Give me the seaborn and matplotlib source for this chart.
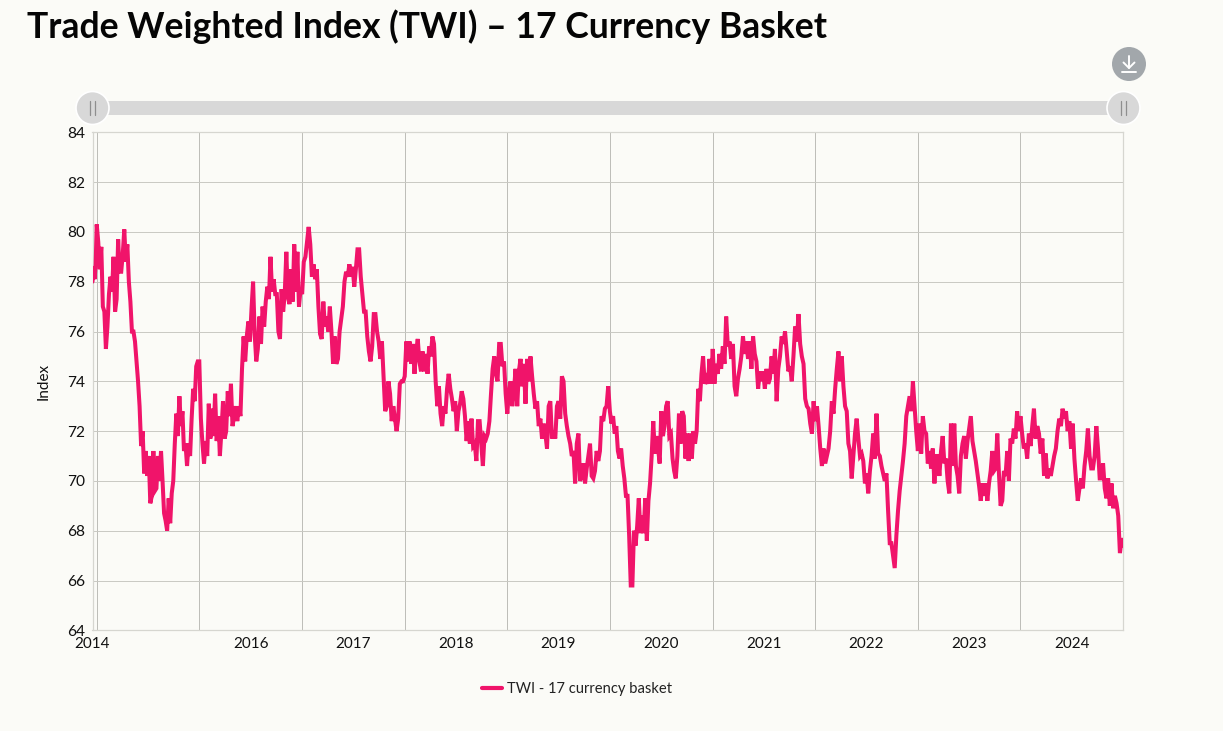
#!/usr/bin/env python3
import numpy as np
import pandas as pd
import matplotlib
matplotlib.use('Agg')
import matplotlib.pyplot as plt
import seaborn as sns
from matplotlib.patches import Circle, Rectangle

# Index values, one list per calendar year
twi_stub = [78.0, 78.6, 78.1, 78.7]
twi_2015 = [80.3, 79.6, 78.5, 79.4, 77.0, 76.8, 75.3, 76.2, 77.5, 78.2, 77.6, 79.0, 76.8, 77.3,
            79.7, 78.4, 78.4, 79.1, 80.1, 78.8, 79.5, 78.0, 77.2, 76.0, 76.0, 75.6, 74.8, 74.0,
            73.0, 71.4, 72.0, 70.3, 71.2, 70.2, 71.0, 69.1, 69.4, 71.2, 69.6, 69.7, 71.0, 70.0,
            71.2, 70.0, 68.7, 68.4, 68.0, 69.3, 68.3, 69.5, 70.0, 71.5, 72.7, 71.8, 73.4, 72.2,
            72.8, 71.2, 71.5, 70.6, 71.5, 71.0, 72.5, 73.7, 73.2, 74.6, 74.8]
twi_2016 = [74.8, 72.5, 71.5, 70.7, 71.6, 71.0, 73.1, 71.7, 72.9, 71.8, 73.5, 71.6, 72.6, 71.0,
            72.0, 73.2, 71.7, 72.0, 73.6, 72.6, 73.9, 72.2, 72.6, 73.0, 72.4, 73.0, 72.6, 74.5,
            75.8, 74.8, 75.8, 76.4, 75.6, 76.9, 78.0, 75.9, 74.8, 75.3, 76.6, 75.5, 77.0, 76.2,
            77.2, 77.8, 77.3, 79.0, 77.6, 78.1, 77.5, 77.5, 76.0, 75.7, 77.7, 76.8, 77.5, 79.2,
            77.4, 77.1, 78.5, 77.2, 79.5, 77.6, 79.2, 77.0, 77.7]
twi_2017 = [77.5, 78.8, 79.0, 79.6, 80.2, 79.5, 78.2, 78.7, 78.1, 78.5, 77.0, 75.9, 75.7, 77.2,
            76.2, 76.6, 76.0, 77.0, 76.0, 74.7, 75.8, 74.7, 74.9, 76.0, 76.5, 77.0, 78.0, 78.4,
            78.2, 78.7, 78.2, 78.6, 77.8, 78.5, 79.3, 79.3, 78.2, 77.5, 76.8, 76.8, 75.8, 75.2,
            74.8, 75.4, 76.7, 76.7, 76.0, 75.6, 74.9, 75.6, 74.2, 72.8, 73.0, 74.0, 73.5, 72.4,
            73.0, 72.5, 72.0, 72.5, 73.9, 74.0, 74.0]
twi_2018 = [74.2, 75.6, 74.8, 75.6, 74.7, 75.5, 74.3, 75.2, 75.7, 74.8, 74.4, 75.2, 74.4, 75.1,
            74.3, 75.4, 75.0, 75.8, 75.5, 74.0, 73.0, 73.8, 72.7, 72.2, 73.0, 72.7, 73.7, 74.3,
            73.7, 73.3, 72.8, 73.2, 72.0, 72.8, 73.1, 73.6, 73.3, 72.6, 71.6, 72.4, 71.5, 72.5,
            71.4, 71.5, 70.8, 72.4, 72.4, 71.5, 70.6, 71.8, 71.7, 71.9, 72.4, 73.5, 74.5, 75.0,
            74.3, 74.0, 75.5, 75.5, 74.6, 74.8, 73.5]
twi_2019 = [72.7, 73.6, 74.0, 73.0, 73.6, 74.5, 73.0, 74.4, 74.9, 73.8, 74.7, 73.1, 74.9, 74.0,
            75.0, 74.2, 73.5, 72.9, 73.2, 72.2, 72.5, 71.7, 72.3, 71.9, 71.3, 73.0, 73.2, 71.7,
            72.0, 71.7, 73.0, 73.2, 72.5, 74.2, 74.0, 72.7, 72.2, 71.8, 71.5, 71.0, 71.2, 69.9,
            71.5, 71.9, 70.0, 70.2, 70.7, 69.9, 70.5, 71.0, 71.5, 70.2, 70.1, 70.4, 71.2, 70.8,
            71.2, 72.6, 72.4, 72.9, 73.0, 73.8]
twi_2020 = [72.8, 72.3, 72.6, 71.9, 72.2, 71.2, 70.9, 71.3, 70.6, 70.1, 69.4, 69.4, 67.8, 65.8,
            65.8, 68.0, 67.4, 68.2, 69.3, 67.9, 68.6, 67.9, 69.3, 67.6, 69.2, 69.9, 71.0, 72.4,
            71.1, 71.8, 71.3, 70.7, 72.8, 71.8, 72.2, 73.0, 73.2, 71.8, 71.9, 70.9, 70.4, 70.1,
            71.0, 72.7, 71.5, 72.8, 72.6, 70.9, 71.9, 70.8, 71.9, 70.9, 72.0, 71.5, 72.0, 73.7,
            73.2, 74.3, 75.0, 73.9, 74.1, 73.9, 74.9, 73.9]
twi_2021 = [75.3, 73.9, 74.7, 74.3, 75.1, 74.5, 75.4, 74.7, 76.6, 75.4, 75.6, 74.9, 75.5, 73.8,
            73.4, 74.1, 74.5, 75.0, 75.8, 75.1, 75.6, 74.9, 75.6, 74.5, 75.8, 75.1, 74.8, 73.7,
            74.4, 74.0, 74.4, 73.7, 74.5, 73.9, 74.1, 75.0, 74.3, 75.3, 73.2, 74.5, 75.0, 75.8,
            75.5, 76.0, 75.2, 74.4, 74.6, 74.0, 75.0, 76.2, 75.6, 76.7, 75.5, 75.0, 74.7, 73.3,
            73.0, 72.9, 72.3, 71.9, 73.2]
twi_2022 = [72.4, 73.0, 72.2, 71.3, 70.6, 71.3, 70.7, 71.0, 71.3, 72.0, 73.2, 72.7, 73.7, 74.5,
            75.2, 74.0, 75.0, 73.8, 73.0, 72.8, 71.5, 71.2, 70.1, 71.0, 71.9, 72.5, 71.7, 71.0,
            71.1, 70.8, 69.9, 70.3, 69.5, 70.4, 71.0, 71.9, 70.9, 72.7, 71.1, 71.0, 70.6, 70.3,
            70.0, 70.3, 68.8, 67.5, 67.5, 67.0, 66.5, 67.8, 68.8, 69.6, 70.2, 70.8, 71.5, 72.6,
            73.0, 73.4, 72.8, 74.0, 73.0, 72.0]
twi_2023 = [71.2, 72.3, 71.1, 72.6, 72.0, 71.9, 70.7, 71.2, 70.5, 71.3, 69.9, 71.0, 71.0, 70.2,
            71.2, 71.8, 70.7, 70.9, 70.0, 69.5, 72.3, 70.6, 72.3, 70.6, 70.2, 69.5, 71.0, 71.5,
            71.8, 70.9, 71.6, 72.1, 72.6, 71.6, 71.2, 70.8, 70.3, 69.8, 69.2, 69.9, 69.4, 69.9,
            69.2, 69.9, 70.4, 71.2, 70.4, 70.5, 71.9, 70.3, 69.0, 69.2, 70.4, 70.2, 71.2, 70.0,
            71.7, 71.5, 72.1, 71.7, 72.8, 72.0]
twi_2024 = [72.6, 71.9, 71.3, 71.5, 70.9, 71.9, 71.4, 72.2, 72.9, 71.7, 72.2, 71.9, 71.1, 71.7,
            70.2, 71.1, 70.1, 70.5, 70.2, 70.6, 71.0, 71.3, 72.0, 72.5, 72.2, 72.9, 72.5, 72.8,
            72.0, 72.4, 71.3, 72.3, 70.9, 70.0, 69.2, 69.7, 70.1, 69.7, 70.6, 71.2, 72.1, 71.0,
            70.5, 70.5, 71.0, 72.2, 71.3, 70.1, 70.1, 70.7, 69.7, 69.3, 70.1, 69.0, 69.9, 68.9,
            69.4, 69.1, 68.6, 67.1, 67.7, 67.4]

year_values = [twi_stub, twi_2015, twi_2016, twi_2017, twi_2018, twi_2019, twi_2020,
               twi_2021, twi_2022, twi_2023, twi_2024]
year_edges = ['2014-12-17', '2015-01-01', '2016-01-01', '2017-01-01', '2018-01-01', '2019-01-01',
              '2020-01-01', '2021-01-01', '2022-01-01', '2023-01-01', '2024-01-01', '2025-01-01']

y_ticks = [64, 66, 68, 70, 72, 74, 76, 78, 80, 82, 84]
label_years = ['2016', '2017', '2018', '2019', '2020', '2021', '2022', '2023', '2024']
series_name = 'TWI - 17 currency basket'

# Spread each year's readings evenly across that year
frames = []
for i, vals in enumerate(year_values):
    start, end = pd.Timestamp(year_edges[i]), pd.Timestamp(year_edges[i + 1])
    dates = pd.date_range(start, end, periods=len(vals) + 1)[:-1] if i < len(year_values) - 1 \
        else pd.date_range(start, end, periods=len(vals))
    frames.append(pd.DataFrame({'date': dates, 'twi': vals}))
df = pd.concat(frames, ignore_index=True)

BG = '#FBFBF7'
PINK = '#F0146A'
W, H = 1223, 731

sns.set_theme(style='white')
plt.rcParams['font.family'] = ['Lato', 'DejaVu Sans']

fig = plt.figure(figsize=(W / 100, H / 100), dpi=100, facecolor=BG)
ax = fig.add_axes([92.5 / W, 1 - 630.3 / H, (1123.3 - 92.5) / W, (630.3 - 132.3) / H], facecolor=BG)

sns.lineplot(data=df, x='date', y='twi', color=PINK, linewidth=2.9, label=series_name,
             estimator=None, sort=False, ax=ax, zorder=3)
ax.lines[0].set_solid_joinstyle('miter')

ax.set_xlim(pd.Timestamp(year_edges[0]), pd.Timestamp(year_edges[-1]))
ax.set_ylim(y_ticks[0], y_ticks[-1])
ax.set_yticks(y_ticks)
ax.tick_params(axis='y', length=0, labelsize=11.2, pad=5, labelcolor='#111111')

# Gridlines sit on year starts, year labels in the middle of each year
ax.set_xticks([pd.Timestamp(e) for e in year_edges[1:]])
ax.set_xticklabels([])
ax.tick_params(axis='x', which='major', length=0)
label_pos = [pd.Timestamp(year_edges[0])] + [pd.Timestamp(y + '-07-02') for y in label_years]
ax.set_xticks(label_pos, minor=True)
ax.set_xticklabels(['2014'] + label_years, minor=True)
ax.tick_params(axis='x', which='minor', length=0, labelsize=11.0, pad=5, labelcolor='#111111')

ax.grid(axis='y', color='#C9C9C3', linewidth=0.7)
ax.grid(axis='x', which='major', color='#BDBDB8', linewidth=0.7)
ax.set_axisbelow(True)
for s in ax.spines.values():
    s.set_color('#D6D6D0')
    s.set_linewidth(0.9)

ax.set_xlabel('')
ax.set_ylabel('Index', fontsize=11, color='#111111')
ax.yaxis.set_label_coords((51 - 92.5) / (1123.3 - 92.5), 0.5)

leg = ax.legend(loc='center', bbox_to_anchor=(577.5 / W, 1 - 689.5 / H),
                bbox_transform=fig.transFigure, frameon=False, fontsize=10.6,
                handlelength=1.3, handletextpad=0.4, labelcolor='#222222')
leg.get_lines()[0].set_linewidth(3.0)

# Title and the slider / download controls, laid out in screen pixels
ui = fig.add_axes([0, 0, 1, 1], facecolor='none')
ui.set_xlim(0, W)
ui.set_ylim(H, 0)
ui.axis('off')
ui.text(27, 27, 'Trade Weighted Index (TWI) \u2013 17 Currency Basket', fontsize=25.6,
        fontweight='bold', color='#050505', va='center', ha='left')

ui.add_patch(Rectangle((105, 101), 1006, 14, facecolor='#D8D8D8', edgecolor='none'))
for cx in (92.5, 1123.5):
    ui.add_patch(Circle((cx, 108), 16.5, facecolor='#D8D8D8', edgecolor='white', linewidth=1.2))
    ui.plot([cx - 2.5, cx - 2.5], [101, 115], color='#8E8E8E', linewidth=0.9)
    ui.plot([cx + 2.5, cx + 2.5], [101, 115], color='#8E8E8E', linewidth=0.9)

ui.add_patch(Circle((1129, 64), 17, facecolor='#A2A7AB', edgecolor='none'))
ui.plot([1129, 1129], [56, 68], color='white', linewidth=1.4)
ui.plot([1123.5, 1129, 1134.5], [62.5, 68, 62.5], color='white', linewidth=1.4)
ui.plot([1122, 1136], [71.5, 71.5], color='white', linewidth=1.4)

fig.savefig('out.png', dpi=100, facecolor=BG)
plt.close()
